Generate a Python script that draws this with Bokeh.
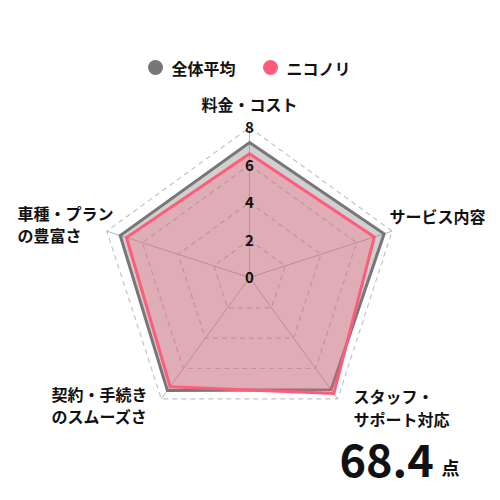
import math

from bokeh.core.properties import value
from bokeh.embed import file_html
from bokeh.models import Range1d
from bokeh.plotting import figure
from bokeh.resources import INLINE

# データ
categories = ["料金・コスト", "サービス内容", "スタッフ・サポート対応",
              "契約・手続きのスムーズさ", "車種・プランの豊富さ"]
avg_scores = [7.2, 7.55, 7.4, 7.45, 7.25]
niko_scores = [6.6, 7.0, 7.65, 7.2, 6.9]
series_names = ["全体平均", "ニコノリ"]
tick_values = [0, 2, 4, 6, 8]
total_score = "68.4"

FONT = value("Noto Sans CJK JP")
GRAY = "#777777"
PINK = "#ff5c7a"
GRID = "#c4c4c4"

W = H = 500
UNIT = 150 / 8          # px per score point
CX, CY = 249, 277        # centre in px (from top-left)


def to_data(px_x, px_y):
    # picture px -> data coords
    return (px_x - CX) / UNIT, (CY - px_y) / UNIT


angles = [math.radians(90 - 72 * i) for i in range(len(categories))]


def polygon(vals):
    xs = [v * math.cos(a) for v, a in zip(vals, angles)]
    ys = [v * math.sin(a) for v, a in zip(vals, angles)]
    return xs, ys


p = figure(width=W, height=H, output_backend="svg", toolbar_location=None,
           min_border=0, outline_line_color=None)
p.x_range = Range1d(-CX / UNIT, (W - CX) / UNIT)
p.y_range = Range1d(-(H - CY) / UNIT, CY / UNIT)
p.axis.visible = False
p.grid.visible = False
p.background_fill_color = "white"

# グリッド（破線の五角形）とスポーク
for t in tick_values[1:]:
    xs, ys = polygon([t] * len(categories))
    p.line(xs + xs[:1], ys + ys[:1], line_color=GRID, line_width=1.2,
           line_dash="5 4")
ox, oy = polygon([tick_values[-1]] * len(categories))
for x, y in zip(ox, oy):
    p.line([0, x], [0, y], line_color="#b8b8b8", line_width=1)

# データ系列
ax, ay = polygon(avg_scores)
p.patch(ax, ay, fill_color=GRAY, fill_alpha=0.35, line_color=GRAY,
        line_width=3, line_join="miter")
nx, ny = polygon(niko_scores)
p.patch(nx, ny, fill_color=PINK, fill_alpha=0.3, line_color=PINK,
        line_width=3, line_join="miter")

# 目盛りラベル
p.text(x=[0] * len(tick_values), y=tick_values, text=[str(t) for t in tick_values],
       text_font=FONT, text_font_size="15px", text_font_style="bold",
       text_align="center", text_baseline="middle", text_color="#111111")

# カテゴリラベル（位置はピクセル指定）
label_lines = [
    ("料金・コスト", 249, 103, "center"),
    ("サービス内容", 389, 215, "left"),
    ("スタッフ・", 353, 395, "left"),
    ("サポート対応", 353, 418, "left"),
    ("契約・手続き", 51, 393, "left"),
    ("のスムーズさ", 51, 415, "left"),
    ("車種・プラン", 17, 212, "left"),
    ("の豊富さ", 17, 234, "left"),
]
for txt, px_x, px_y, align in label_lines:
    x, y = to_data(px_x, px_y)
    p.text(x=[x], y=[y], text=[txt], text_font=FONT, text_font_size="16px",
           text_font_style="bold", text_align=align, text_baseline="middle",
           text_color="#111111")

# 凡例
for name, color, cx_px, tx_px in [(series_names[0], GRAY, 155, 171),
                                  (series_names[1], PINK, 270, 286)]:
    x, y = to_data(cx_px, 67)
    p.scatter([x], [y], marker="circle", size=15, fill_color=color,
              line_color=None)
    x, y = to_data(tx_px, 67)
    p.text(x=[x], y=[y], text=[name], text_font=FONT, text_font_size="16px",
           text_font_style="bold", text_align="left", text_baseline="middle",
           text_color="#111111")

# 総合スコア
x, y = to_data(339, 460)
p.text(x=[x], y=[y], text=[total_score], text_font=FONT, text_font_size="45px",
       text_font_style="bold", text_align="left", text_baseline="middle",
       text_color="#111111")
x, y = to_data(441, 466)
p.text(x=[x], y=[y], text=["点"], text_font=FONT, text_font_size="18px",
       text_font_style="bold", text_align="left", text_baseline="middle",
       text_color="#111111")

open("out.html", "w").write(file_html(p, INLINE))
